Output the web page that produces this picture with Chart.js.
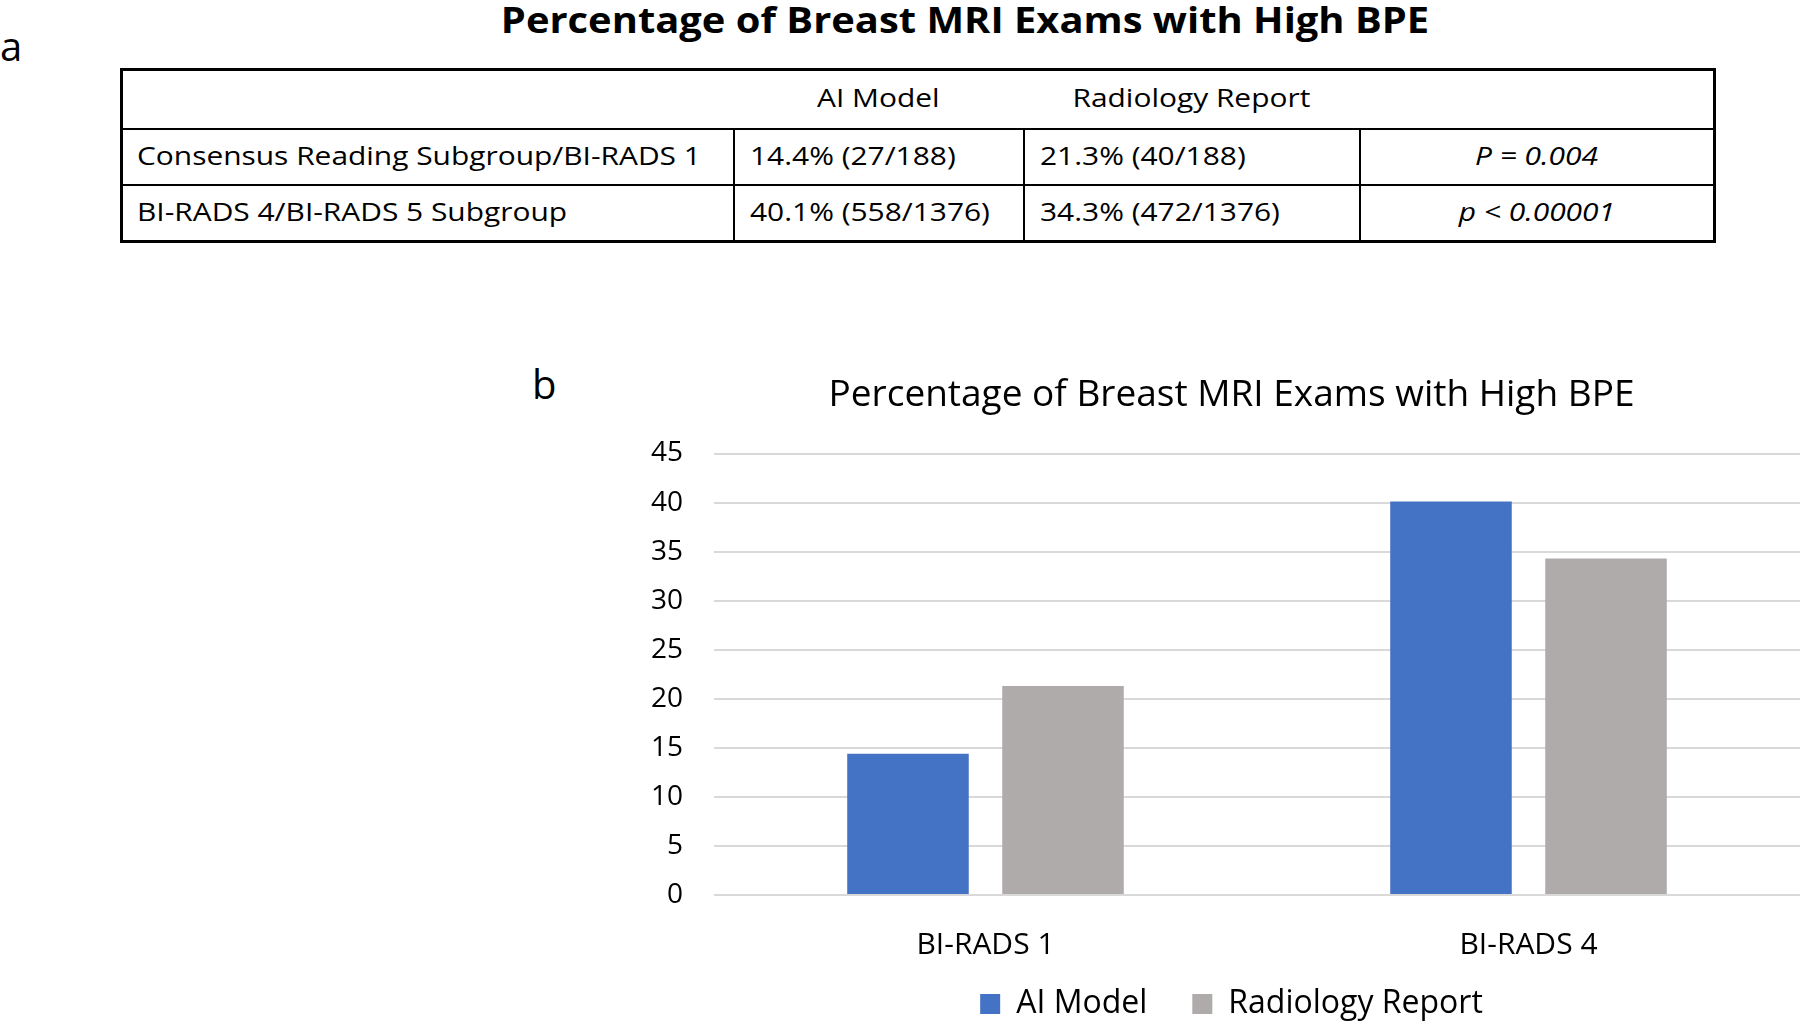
<!DOCTYPE html>
<html>
<head>
<meta charset="utf-8">
<title>Percentage of Breast MRI Exams with High BPE</title>
<script src="https://cdn.jsdelivr.net/npm/chart.js@4.4.0/dist/chart.umd.min.js"></script>
<style>
    html, body {
        margin: 0;
        padding: 0;
        background: #fff;
    }
    body {
        width: 1800px;
        height: 1021px;
        overflow: hidden;
        position: relative;
        font-family: 'Open Sans', sans-serif;
        color: #000;
    }
    .panel-label {
        position: absolute;
        font-size: 40px;
        line-height: 40px;
    }
    #mainTitle {
        position: absolute;
        left: 964.5px;
        top: 2px;
        font-size: 35px;
        line-height: 35px;
        font-weight: 700;
        white-space: nowrap;
        transform: translateX(-50%) scaleX(1.14);
    }
    #summaryTable {
        position: absolute;
        left: 120px;
        top: 68px;
        width: 1593px;
        border-collapse: collapse;
        table-layout: fixed;
        border: 3px solid #000;
        font-size: 26px;
        line-height: 30px;
    }
    #summaryTable td {
        padding: 0 0 4px 15px;
        vertical-align: middle;
        white-space: nowrap;
    }
    #summaryTable tr.head td {
        border: none;
        text-align: center;
        padding-left: 0;
    }
    #summaryTable tr.head { height: 59px; }
    #summaryTable tr.body { height: 56.5px; }
    #summaryTable tr.body td {
        border-top: 2px solid #000;
        border-left: 2px solid #000;
    }
    #summaryTable tr.body td:first-child { padding-left: 14px; }
    #summaryTable tr.body td:last-child {
        text-align: center;
        padding-left: 0;
        font-style: italic;
    }
    .sx {
        display: inline-block;
        transform: scaleX(1.15);
        transform-origin: left center;
    }
    tr.head .sx, td:last-child .sx { transform-origin: center center; }
    #chartBox {
        position: absolute;
        left: 640px;
        top: 360px;
    }
</style>
</head>
<body>

<div class="panel-label" style="left:0px; top:26px;">a</div>
<div id="mainTitle">Percentage of Breast MRI Exams with High BPE</div>
<table id="summaryTable">
    <colgroup>
        <col style="width:612px">
        <col style="width:290px">
        <col style="width:336px">
        <col style="width:355px">
    </colgroup>
    <tbody id="tableBody"></tbody>
</table>

<div class="panel-label" style="left:532px; top:364px;">b</div>
<div id="chartBox">
    <canvas id="bpeChart" width="1183" height="670"></canvas>
</div>

<script>
// ---- panel a: table values ----
const tableHeader = ['', 'AI Model', 'Radiology Report', ''];
const tableRowLabels = ['Consensus Reading Subgroup/BI-RADS 1', 'BI-RADS 4/BI-RADS 5 Subgroup'];
const tableAiModel = ['14.4% (27/188)', '40.1% (558/1376)'];
const tableReport = ['21.3% (40/188)', '34.3% (472/1376)'];
const tablePValues = ['P = 0.004', 'p < 0.00001'];

// ---- panel b: chart values ----
const chartTitle = 'Percentage of Breast MRI Exams with High BPE';
const categories = ['BI-RADS 1', 'BI-RADS 4'];
const seriesNames = ['AI Model', 'Radiology Report'];
const aiModelPct = [14.4, 40.1];
const reportPct = [21.3, 34.3];
const yMin = 0;
const yMax = 45;
const yStep = 5;

const FONT = "'Open Sans', sans-serif";

/**
 * Build the summary table
 */
function buildTable() {
    const body = document.getElementById('tableBody');

    const head = document.createElement('tr');
    head.className = 'head';
    tableHeader.forEach(text => {
        const td = document.createElement('td');
        if (text) {
            const span = document.createElement('span');
            span.className = 'sx';
            span.textContent = text;
            td.appendChild(span);
        }
        head.appendChild(td);
    });
    body.appendChild(head);

    tableRowLabels.forEach((label, i) => {
        const tr = document.createElement('tr');
        tr.className = 'body';
        [label, tableAiModel[i], tableReport[i], tablePValues[i]].forEach(text => {
            const td = document.createElement('td');
            const span = document.createElement('span');
            span.className = 'sx';
            span.textContent = text;
            td.appendChild(span);
            tr.appendChild(td);
        });
        body.appendChild(tr);
    });
}

/**
 * Build the bar chart
 */
function buildChart() {
    const ctx = document.getElementById('bpeChart');

    new Chart(ctx, {
        type: 'bar',
        data: {
            labels: categories,
            datasets: [
                {
                    label: seriesNames[0],
                    data: aiModelPct,
                    backgroundColor: '#4472C4',
                    borderWidth: 0,
                    categoryPercentage: 0.571,
                    barPercentage: 0.784
                },
                {
                    label: seriesNames[1],
                    data: reportPct,
                    backgroundColor: '#AFABAB',
                    borderWidth: 0,
                    categoryPercentage: 0.571,
                    barPercentage: 0.784
                }
            ]
        },
        options: {
            responsive: false,
            animation: false,
            layout: { padding: 0 },
            plugins: {
                title: {
                    display: true,
                    text: chartTitle,
                    color: '#000',
                    font: { family: FONT, size: 37, weight: 'normal' },
                    padding: { top: 13.4, bottom: 35.7 }
                },
                legend: {
                    position: 'bottom',
                    labels: {
                        color: '#000',
                        font: { family: FONT, size: 32 },
                        boxWidth: 20,
                        boxHeight: 20,
                        padding: 45
                    }
                },
                tooltip: { enabled: false }
            },
            scales: {
                x: {
                    grid: { display: false },
                    border: { display: false },
                    ticks: {
                        color: '#000',
                        font: { family: FONT, size: 30 },
                        // mirrored labels are not clipped to the short axis box
                        mirror: true,
                        padding: -68,
                        maxRotation: 0
                    },
                    afterFit: scale => { scale.height = 48; }
                },
                y: {
                    min: yMin,
                    max: yMax,
                    ticks: {
                        stepSize: yStep,
                        color: '#000',
                        font: { family: FONT, size: 28 },
                        padding: 31
                    },
                    grid: { color: '#D9D9D9', lineWidth: 2, drawTicks: false },
                    border: { display: false },
                    afterFit: scale => { scale.width = 74; }
                },
                // empty right-hand spacer so the title and legend centre like the original
                pad: {
                    type: 'linear',
                    position: 'right',
                    grid: { display: false },
                    ticks: { display: false },
                    border: { display: false },
                    afterFit: scale => { scale.width = 23; }
                }
            }
        }
    });
}

buildTable();
buildChart();
</script>
</body>
</html>
